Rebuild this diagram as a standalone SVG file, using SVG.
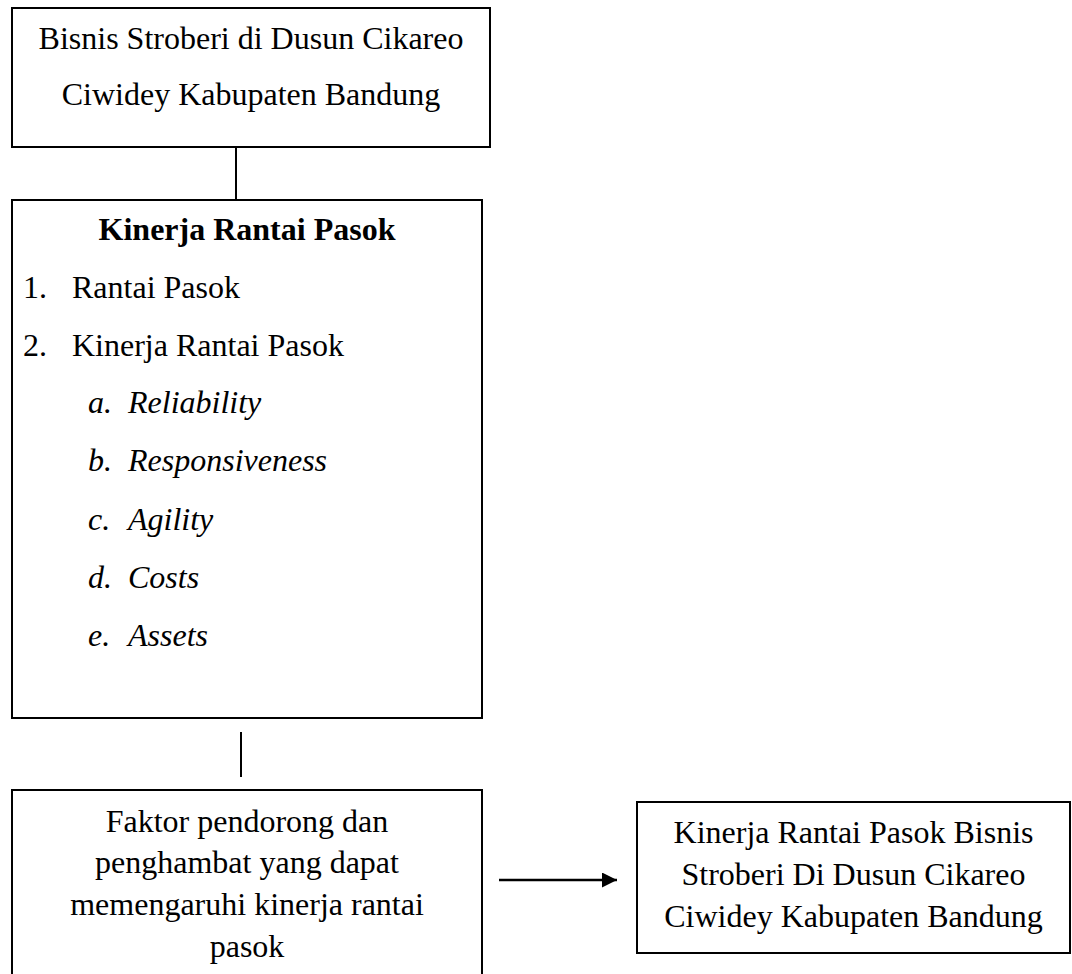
<svg xmlns="http://www.w3.org/2000/svg" width="1072" height="974" viewBox="0 0 1072 974">
<defs>
<style>
.box{fill:#fff;stroke:#000;stroke-width:2}
.t{font-family:"Liberation Serif","Times New Roman",serif;font-size:32px;fill:#000}
.c{text-anchor:middle}
.b{font-weight:bold}
.i{font-style:italic}
.ln{stroke:#000;stroke-width:2;fill:none}
.ar{stroke:#000;stroke-width:2.6;fill:none}
</style>
<marker id="ah" markerWidth="15" markerHeight="15" refX="15" refY="7.5" orient="auto" markerUnits="userSpaceOnUse">
<path d="M0,0 L15,7.5 L0,15 Z" fill="#000"/>
</marker>
</defs>
<rect width="1072" height="974" fill="#fff"/>
<g id="connectors">
<line class="ln" x1="236" y1="147" x2="236" y2="200"/>
<line class="ln" x1="241" y1="732" x2="241" y2="777"/>
<line class="ar" x1="499" y1="880" x2="617" y2="880" marker-end="url(#ah)"/>
</g>
<g id="node-bisnis">
<rect class="box" x="12" y="8" width="478" height="139"/>
<text class="t c" x="251" y="49">Bisnis Stroberi di Dusun Cikareo</text>
<text class="t c" x="251" y="105">Ciwidey Kabupaten Bandung</text>
</g>
<g id="node-kinerja">
<rect class="box" x="12" y="200" width="470" height="518"/>
<text class="t c b" x="247" y="240">Kinerja Rantai Pasok</text>
<text class="t" x="23" y="298">1.</text>
<text class="t" x="72" y="298">Rantai Pasok</text>
<text class="t" x="23" y="356">2.</text>
<text class="t" x="72" y="356">Kinerja Rantai Pasok</text>
<text class="t i" x="88" y="413">a.</text>
<text class="t i" x="128" y="413">Reliability</text>
<text class="t i" x="88" y="471">b.</text>
<text class="t i" x="128" y="471">Responsiveness</text>
<text class="t i" x="88" y="530">c.</text>
<text class="t i" x="128" y="530">Agility</text>
<text class="t i" x="88" y="588">d.</text>
<text class="t i" x="128" y="588">Costs</text>
<text class="t i" x="88" y="646">e.</text>
<text class="t i" x="128" y="646">Assets</text>
</g>
<g id="node-faktor">
<rect class="box" x="12" y="790" width="470" height="200"/>
<text class="t c" x="247" y="832">Faktor pendorong dan</text>
<text class="t c" x="247" y="873">penghambat yang dapat</text>
<text class="t c" x="247" y="915">memengaruhi kinerja rantai</text>
<text class="t c" x="247" y="957">pasok</text>
</g>
<g id="node-hasil">
<rect class="box" x="637" y="802" width="433" height="151"/>
<text class="t c" x="853.5" y="843">Kinerja Rantai Pasok Bisnis</text>
<text class="t c" x="853.5" y="885">Stroberi Di Dusun Cikareo</text>
<text class="t c" x="853.5" y="927">Ciwidey Kabupaten Bandung</text>
</g>
</svg>
